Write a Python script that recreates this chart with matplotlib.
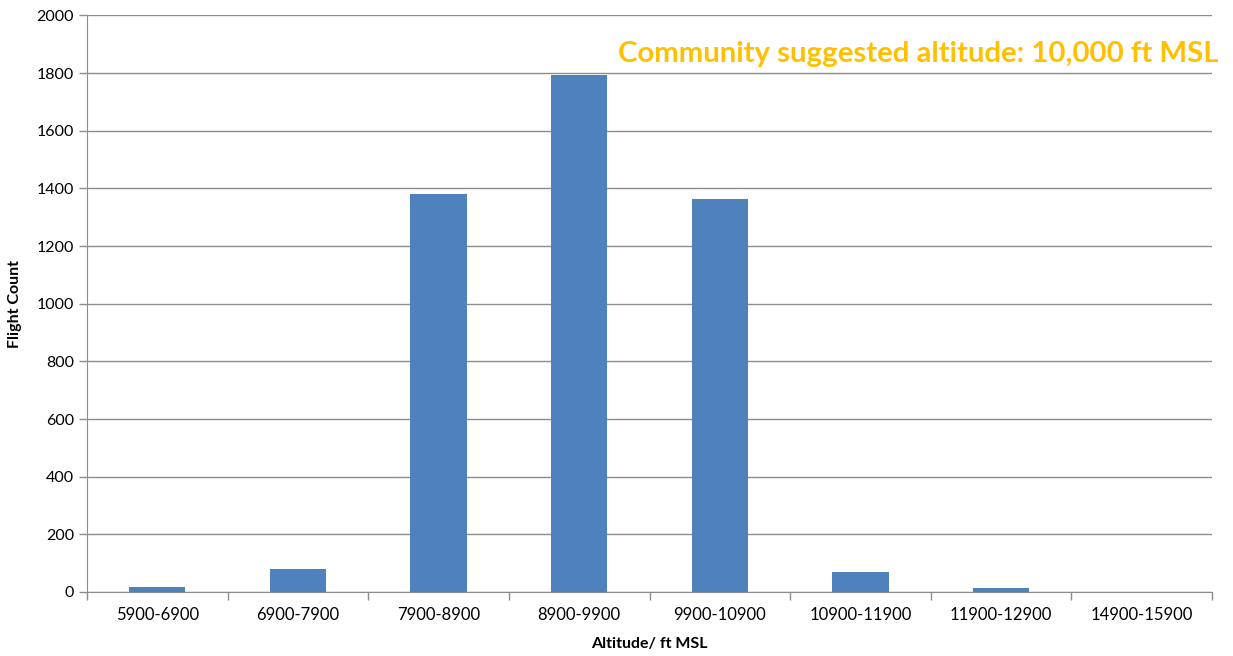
import matplotlib.pyplot as plt
import numpy as np

plt.rcParams['font.family'] = ['Lato', 'DejaVu Sans']

categories = ["5900-6900", "6900-7900", "7900-8900", "8900-9900", "9900-10900",
              "10900-11900", "11900-12900", "14900-15900"]
counts = [16, 80, 1381, 1793, 1364, 68, 13, 0]
yticks = [0, 200, 400, 600, 800, 1000, 1200, 1400, 1600, 1800, 2000]

fig = plt.figure(figsize=(12.33, 6.56), dpi=100)
ax = fig.add_axes([0.0706, 0.0976, 0.9124, 0.8788])

x = np.arange(len(categories))
ax.bar(x, counts, width=0.4, color='#4F81BD', zorder=3)

ax.set_xlim(-0.5, len(categories) - 0.5)
ax.set_ylim(0, 2000)
ax.set_yticks(yticks)
ax.yaxis.grid(True, color='#8C8C8C', linewidth=1, zorder=0)

ax.set_xticks(x)
ax.set_xticklabels(categories, fontsize=12)
ax.set_xticks(np.arange(len(categories) + 1) - 0.5, minor=True)
ax.tick_params(axis='x', which='major', length=0, pad=11)
ax.tick_params(axis='x', which='minor', length=6, color='#8C8C8C', width=1)
ax.tick_params(axis='y', length=6, color='#8C8C8C', width=1, labelsize=11.5)

for side in ['top', 'right']:
    ax.spines[side].set_visible(False)
for side in ['left', 'bottom']:
    ax.spines[side].set_color('#8C8C8C')

ax.set_xlabel('Altitude/ ft MSL', fontsize=11.5, fontweight='bold', labelpad=10)
ax.set_ylabel('Flight Count', fontsize=11.5, fontweight='bold', labelpad=10)

ax.text(1.006, 0.933, 'Community suggested altitude: 10,000 ft MSL',
        transform=ax.transAxes, ha='right', va='center',
        fontsize=21.2, fontweight='bold', color='#FFC000')

fig.savefig('out.png', dpi=100)
